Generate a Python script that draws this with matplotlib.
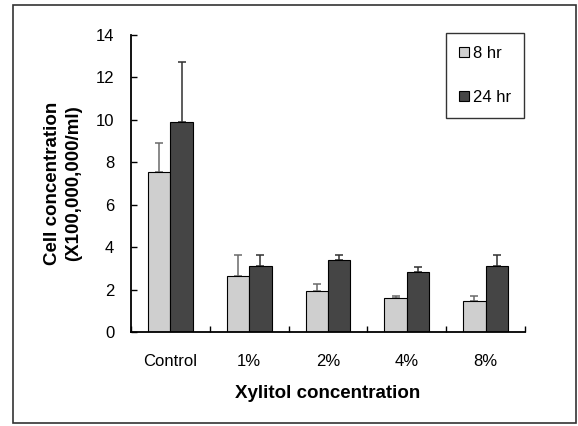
import matplotlib.pyplot as plt
import numpy as np
from matplotlib.patches import Rectangle

plt.rcParams['font.family'] = ['Liberation Sans', 'DejaVu Sans']

# dados
categorias = ['Control', '1%', '2%', '4%', '8%']
media_8h = [7.53, 2.62, 1.92, 1.58, 1.48]
erro_8h = [1.38, 1.02, 0.32, 0.13, 0.22]
media_24h = [9.9, 3.1, 3.38, 2.85, 3.13]
erro_24h = [2.85, 0.55, 0.27, 0.22, 0.49]
legendas = ['8 hr', '24 hr']

fig = plt.figure(figsize=(5.78, 4.26), dpi=100)
ax = fig.add_axes([131/578, 1-332/426, (525-131)/578, (332-35)/426])

x = np.arange(len(categorias))
w = 0.285

# barras com erro só para cima
ax.bar(x - w/2, media_8h, w, color='#cfcfcf', edgecolor='black', linewidth=0.8,
       label=legendas[0], zorder=2)
ax.bar(x + w/2, media_24h, w, color='#454545', edgecolor='black', linewidth=0.8,
       label=legendas[1], zorder=2)
ax.errorbar(x - w/2, media_8h, yerr=[np.zeros(len(x)), erro_8h], fmt='none',
            ecolor='#6a6a6a', elinewidth=1.1, capsize=3, capthick=1.1, zorder=1)
ax.errorbar(x + w/2, media_24h, yerr=[np.zeros(len(x)), erro_24h], fmt='none',
            ecolor='#303030', elinewidth=1.1, capsize=3, capthick=1.1, zorder=1)

ax.set_xlim(-0.5, len(categorias) - 0.5)
ax.set_ylim(0, 14)
ax.set_yticks(np.arange(0, 15, 2))
ax.set_xticks(x)
ax.set_xticklabels(categorias)
# ticks entre as categorias, estilo excel
ax.set_xticks(np.arange(-0.5, len(categorias), 1), minor=True)
ax.tick_params(axis='x', which='major', length=0, pad=16, labelsize=12)
ax.tick_params(axis='x', which='minor', direction='in', length=4, width=1)
ax.tick_params(axis='y', direction='in', length=4, width=1, pad=12, labelsize=12)

for s in ['top', 'right']:
    ax.spines[s].set_visible(False)
for s in ['left', 'bottom']:
    ax.spines[s].set_linewidth(1.3)

ax.set_xlabel('Xylitol concentration', fontsize=13.5, fontweight='bold', labelpad=11)
ax.set_ylabel('Cell concentration\n(X100,000,000/ml)', fontsize=13.5,
              fontweight='bold', labelpad=10, linespacing=1.3)

leg = ax.legend(loc='upper left', bbox_to_anchor=(446/578, 1-33/426),
                bbox_transform=fig.transFigure, fontsize=12, frameon=True,
                fancybox=False, edgecolor='black', labelspacing=1.7,
                handlelength=0.55, handleheight=0.55, handletextpad=0.25,
                borderpad=0.8, borderaxespad=0)
leg.get_frame().set_linewidth(1.0)

# moldura externa
fig.patches.append(Rectangle((13/578, 1-423/426), (576-13)/578, (423-5)/426,
                             transform=fig.transFigure, fill=False,
                             edgecolor='#333333', linewidth=1.2))

fig.savefig('out.png', dpi=100)
